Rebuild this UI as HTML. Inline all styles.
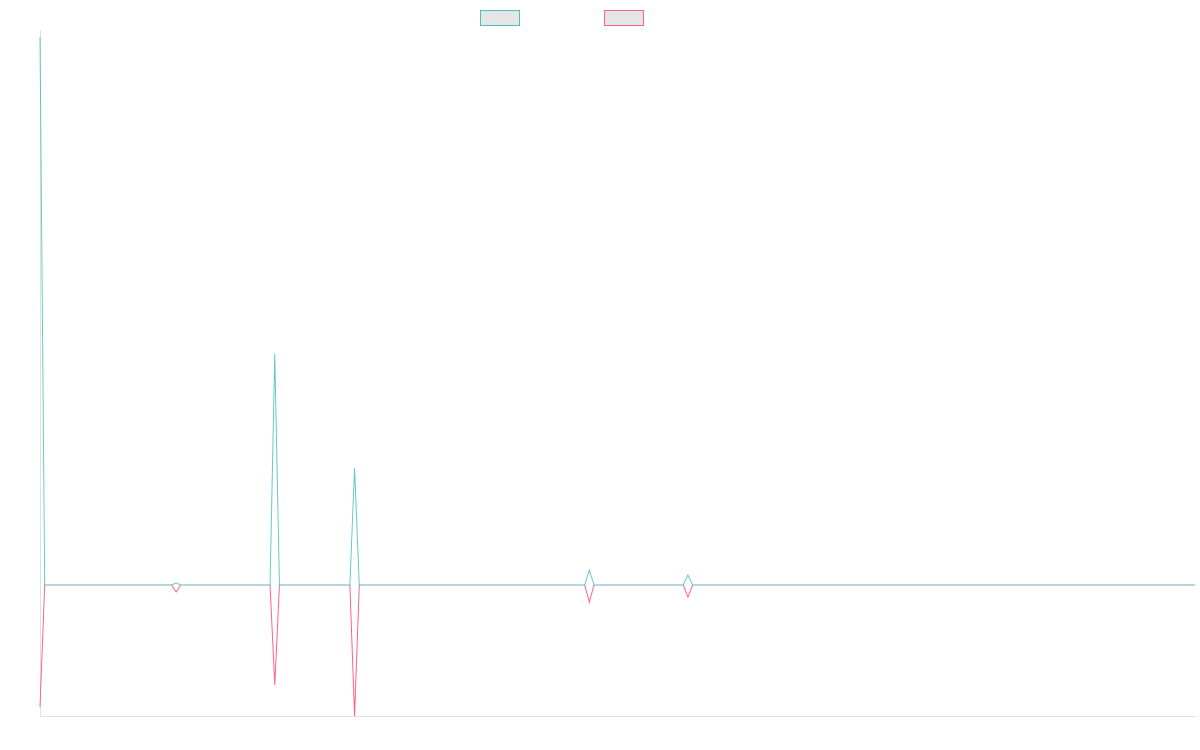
<!DOCTYPE html>
<html><head><meta charset="utf-8"><style>
html,body{margin:0;padding:0;background:#fff;width:1200px;height:750px;overflow:hidden;font-family:"Liberation Sans",sans-serif}
</style></head><body>
<svg id="chart" width="1200" height="750" xmlns="http://www.w3.org/2000/svg">
<rect x="480.5" y="10.5" width="39" height="15" fill="#e5e5e5" stroke="rgb(75,192,192)" stroke-width="1"/>
<rect x="604.5" y="10.5" width="39" height="15" fill="#e5e5e5" stroke="rgb(255,99,132)" stroke-width="1"/>
<line x1="40.5" y1="30" x2="40.5" y2="716.5" stroke="#e0e0e0"/>
<line x1="40" y1="716.5" x2="1195" y2="716.5" stroke="#e0e0e0"/>
<g id="series"></g>
</svg>
<script>
const pointCount = 247;
const spikeIndices = [0, 29, 50, 67, 117, 138];
const series1Values = [54.8, 0.2, 23.1, 11.7, 1.5, 1.0];
const series2Values = [-12.2, -0.7, -10.0, -13.1, -1.7, -1.2];
const yMin = -13.1, yMax = 54.8;

const plotLeft = 40, plotRight = 1195, plotTop = 37, plotBottom = 716;
function xScale(i){ return plotLeft + i * (plotRight - plotLeft) / (pointCount - 1); }
function yScale(v){ return plotBottom - (v - yMin) / (yMax - yMin) * (plotBottom - plotTop); }

function buildValues(vals){
  const arr = new Array(pointCount).fill(0);
  spikeIndices.forEach((idx, k) => { arr[idx] = vals[k]; });
  return arr;
}
function pathFor(arr){
  return arr.map((v, i) => (i ? 'L' : 'M') + xScale(i).toFixed(2) + ' ' + yScale(v).toFixed(2)).join(' ');
}
const g = document.getElementById('series');
const ns = 'http://www.w3.org/2000/svg';
const p2 = document.createElementNS(ns, 'path');


p2.setAttribute('d', pathFor(buildValues(series2Values)));
p2.setAttribute('fill', 'none');
p2.setAttribute('stroke', 'rgb(255,99,132)');
p2.setAttribute('stroke-width', '1');
g.appendChild(p2);
const p1 = document.createElementNS(ns, 'path');


p1.setAttribute('d', pathFor(buildValues(series1Values)));
p1.setAttribute('fill', 'none');
p1.setAttribute('stroke', 'rgb(75,192,192)');
p1.setAttribute('stroke-width', '1');
p1.setAttribute('stroke-opacity', '0.85');
g.appendChild(p1);
</script>
</body></html>
